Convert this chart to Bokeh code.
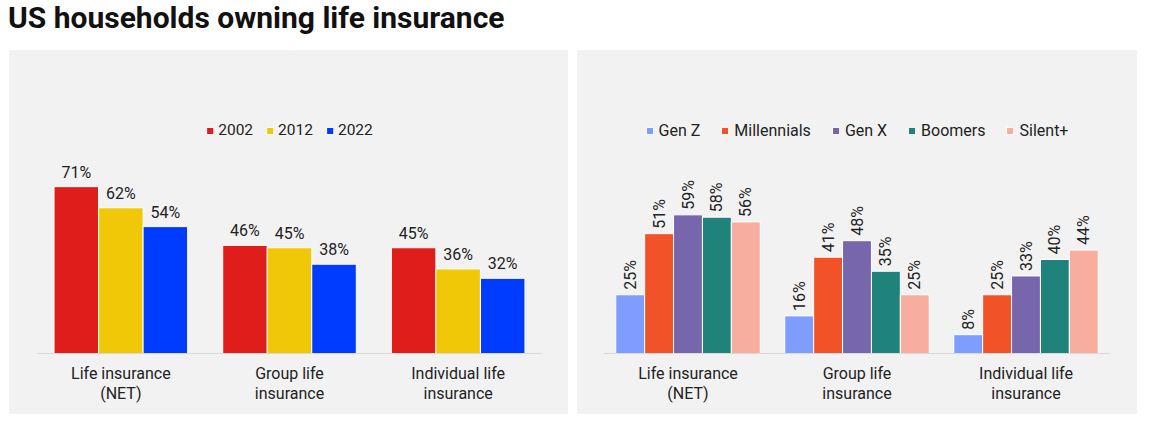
from bokeh.plotting import figure
from bokeh.models import ColumnDataSource, Div, Legend, LegendItem, Span
from bokeh.layouts import row, column
from bokeh.transform import dodge
from bokeh.embed import file_html
from bokeh.resources import INLINE
from bokeh.core.properties import value
import math

categories = ["Life insurance (NET)", "Group life insurance", "Individual life insurance"]
cat_labels = ["Life insurance\n(NET)", "Group life\ninsurance", "Individual life\ninsurance"]

years = ["2002", "2012", "2022"]
year_values = {
    "2002": [71, 46, 45],
    "2012": [62, 45, 36],
    "2022": [54, 38, 32],
}
year_colors = ["#df1d1b", "#f0c808", "#003cff"]

gens = ["Gen Z", "Millennials", "Gen X", "Boomers", "Silent+"]
gen_values = {
    "Gen Z": [25, 16, 8],
    "Millennials": [51, 41, 25],
    "Gen X": [59, 48, 33],
    "Boomers": [58, 35, 40],
    "Silent+": [56, 25, 44],
}
gen_colors = ["#7f9cff", "#f25227", "#7866ad", "#1f837c", "#f7ae9e"]

FONT = "Roboto"
BG = "#f2f2f2"
TXT = "#222222"

H = 364
TOP = 21
PX_PER_UNIT = 2.35
BELOW = 61  # pixels below baseline for category labels
Y_END = 120
Y_START = -BELOW / PX_PER_UNIT


def make_panel(series, values, colors, width, bl, br, step, rotated,
               leg_font, leg_spacing, leg_standoff):
    p = figure(x_range=categories, y_range=(Y_START, Y_END), width=width, height=H,
               output_backend="svg", toolbar_location=None,
               min_border_left=bl, min_border_right=br, min_border_top=TOP,
               min_border_bottom=0)
    p.background_fill_alpha = 0
    p.border_fill_alpha = 0
    p.styles = {"background-color": BG}
    p.outline_line_color = None
    p.grid.visible = False
    p.yaxis.visible = False
    p.xaxis.visible = False

    p.add_layout(Span(location=0, dimension="width", line_color="#d9d9d9",
                      line_width=1))

    lab_src = ColumnDataSource(dict(cat=categories, lab=cat_labels,
                                    y=[0] * len(categories)))
    p.text(x="cat", y="y", text="lab", source=lab_src, text_align="center",
           text_baseline="top", y_offset=10, text_line_height=1.1,
           text_font=value(FONT), text_font_size="16px", text_color=TXT)

    n = len(series)
    items = []
    for i, (s, c) in enumerate(zip(series, colors)):
        off = (i - (n - 1) / 2) * step
        src = ColumnDataSource(dict(cat=categories, v=values[s],
                                    lab=[f"{v}%" for v in values[s]]))
        r = p.vbar(x=dodge("cat", off, range=p.x_range), top="v", width=step,
                   source=src, fill_color=c, line_color="white", line_width=1)
        items.append(LegendItem(label=s, renderers=[r]))
        if rotated:
            p.text(x=dodge("cat", off, range=p.x_range), y="v", text="lab",
                   source=src, angle=math.pi / 2, text_align="left",
                   text_baseline="middle", y_offset=-5,
                   text_font=value(FONT), text_font_size="16px", text_color=TXT)
        else:
            p.text(x=dodge("cat", off, range=p.x_range), y="v", text="lab",
                   source=src, text_align="center", text_baseline="bottom",
                   y_offset=-5,
                   text_font=value(FONT), text_font_size="16px", text_color=TXT)

    leg = Legend(items=items, location="top_center", orientation="horizontal")
    leg.background_fill_alpha = 0
    leg.border_line_color = None
    leg.label_text_font = FONT
    leg.label_text_font_size = leg_font
    leg.label_text_color = TXT
    leg.glyph_width = 9
    leg.glyph_height = 9
    leg.label_standoff = leg_standoff
    leg.spacing = leg_spacing
    leg.padding = 0
    leg.margin = 49
    leg.label_height = 20
    p.add_layout(leg)
    return p


p1 = make_panel(years, year_values, year_colors, 559, 27, 26, 0.264, False,
                "15.5px", 12, 4)
p2 = make_panel(gens, gen_values, gen_colors, 560, 26, 27, 0.171, True,
                "16px", 20, 5)
p1.margin = (0, 0, 0, 9)
p2.margin = (0, 0, 0, 9)

title = Div(text="US households owning life insurance", width=1151, height=50,
            margin=(0, 0, 0, 0),
            styles={"font-family": "Roboto", "font-weight": "bold",
                    "font-size": "30px", "color": "#111111",
                    "padding-left": "8px", "padding-top": "0px",
                    "line-height": "36px"})

layout = column(title, row(p1, p2, spacing=0), spacing=0)
layout.margin = (0, 0, 0, 0)

open("out.html", "w").write(file_html(layout, INLINE))
